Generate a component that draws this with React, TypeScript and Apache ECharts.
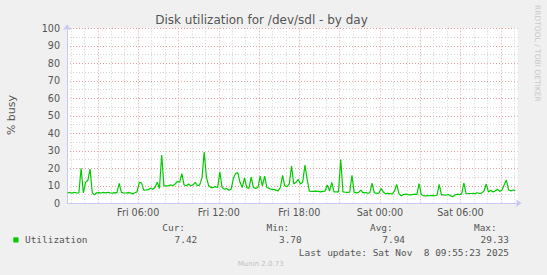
import React, { useEffect, useRef } from 'react';
import * as echarts from 'echarts';

// Time axis in hours since Fri 00:00
const START_HOUR = 0.75; // first sample, Fri 00:45
const STEP_HOURS = 1 / 6; // 10-minute samples
const X_MIN = 0.7;
const X_MAX = 34.26;

const utilization = [
  6.0, 6.2, 5.8, 6.3, 6.0, 5.9, 20, 6, 12, 13,
  19.5, 6, 4.8, 6.0, 6.1, 5.9, 6.2, 6.0, 6.3, 6.0,
  5.8, 6.1, 6.0, 11.4, 6.2, 6.0, 5.9, 6.1, 6.0, 5.4,
  6, 6.5, 12, 11.5, 7.5, 7.6, 7.8, 8.6, 8, 9,
  12, 8.5, 27.6, 10, 10, 10, 10.5, 10, 11, 12.5,
  12, 17, 10.5, 10, 11, 10, 10.5, 12, 10, 10.5,
  14.5, 29.3, 15, 10, 9, 9, 9.5, 9, 18, 9,
  8, 8.5, 7.5, 8, 14, 17, 17.5, 12, 9, 14.5,
  9, 8.5, 15, 9, 8.5, 9, 15.5, 10, 15.5, 9,
  8.5, 8, 8, 7.5, 7, 9, 16, 10, 9.5, 11,
  21.3, 11, 12, 13.7, 11, 12, 21.9, 13.5, 7, 6.8,
  6.8, 7, 6.8, 6.5, 6.8, 7, 10.5, 7, 12, 6.5,
  6.5, 6.5, 25, 6.5, 6.3, 6.2, 6.3, 16, 6.2, 6,
  6.2, 7.5, 6, 6.2, 5.8, 6, 11.5, 6, 5.8, 5.6,
  8.5, 6.5, 5.5, 5.7, 5.5, 5.3, 7, 10.8, 5.5, 4.2,
  5, 5.2, 5, 4.8, 5, 5.2, 5, 11.2, 5, 4.4,
  4.2, 4.4, 4.3, 4.5, 4.4, 4.6, 10.8, 4.8, 4.8, 4.6,
  5, 4.4, 3.7, 4.8, 5.2, 5, 5.2, 11.6, 5.6, 5.5,
  5.6, 5.7, 5.5, 6, 5.6, 5.8, 7, 11, 6.5, 7.5,
  6.5, 7, 8, 6.8, 7.5, 10.5, 13.3, 7.6, 7, 7.6,
  7.42,
];

const xLabelHours = [6, 12, 18, 24, 30];
const xTickLabels = ['Fri 06:00', 'Fri 12:00', 'Fri 18:00', 'Sat 00:00', 'Sat 06:00'];
const majorHourLines = [3, 6, 9, 12, 15, 18, 21, 24, 27, 30, 33];
const minorHourLines = [1, 2, 4, 5, 7, 8, 10, 11, 13, 14, 16, 17, 19, 20, 22, 23, 25, 26, 28, 29, 31, 32, 34];

const statLabels = ['Cur:', 'Min:', 'Avg:', 'Max:'];
const statValues = ['7.42', '3.70', '7.94', '29.33'];
const seriesName = 'Utilization';
const titleText = 'Disk utilization for /dev/sdl - by day';
const lastUpdate = 'Last update: Sat Nov  8 09:55:23 2025';

const SANS = 'DejaVu Sans';
const MONO = 'DejaVu Sans Mono';
const GREEN = '#00cc00';
const MINOR = '#d2d2d2';
const MAJOR = '#eaa0a0';
const AXIS = '#c8c8f4';

export default function App() {
  const ref = useRef<HTMLDivElement>(null);

  useEffect(() => {
    if (!ref.current) return;
    const chart = echarts.init(ref.current, null, { renderer: 'svg' });
    const data = utilization.map((v, i) => [START_HOUR + i * STEP_HOURS, v]);

    const statHeaderRight = [185, 289.3, 392.7, 496.7];
    const statValueRight = [197.3, 301.7, 405, 509];

    const graphics: any[] = [
      {
        type: 'text', x: 261.5, y: 20,
        style: { text: titleText, font: `12px "${SANS}"`, fill: '#555', textAlign: 'center', textVerticalAlign: 'middle', align: 'center', verticalAlign: 'middle' },
      },
      {
        type: 'text', x: 11, y: 115, rotation: Math.PI / 2,
        style: { text: '% busy', font: `11px "${SANS}"`, fill: '#555', textAlign: 'center', textVerticalAlign: 'middle', align: 'center', verticalAlign: 'middle' },
      },
      {
        type: 'text', x: 537, y: 5, rotation: -Math.PI / 2,
        style: { text: 'RRDTOOL / TOBI OETIKER', font: `7.5px "${SANS}"`, fill: '#c8c8c8', textAlign: 'left', textVerticalAlign: 'middle', align: 'left', verticalAlign: 'middle' },
      },
      {
        type: 'rect', shape: { x: 13.3, y: 237.3, width: 5.2, height: 5.2 },
        style: { fill: GREEN },
      },
      {
        type: 'text', x: 25, y: 239.7,
        style: { text: seriesName, font: `9.45px "${MONO}"`, fill: '#555', textAlign: 'left', textVerticalAlign: 'middle', align: 'left', verticalAlign: 'middle' },
      },
      {
        type: 'text', x: 509, y: 252,
        style: { text: lastUpdate, font: `9.45px "${MONO}"`, fill: '#555', textAlign: 'right', textVerticalAlign: 'middle', align: 'right', verticalAlign: 'middle' },
      },
      {
        type: 'text', x: 260.7, y: 264,
        style: { text: 'Munin 2.0.73', font: `7px "${SANS}"`, fill: '#c0c0c0', textAlign: 'center', textVerticalAlign: 'middle', align: 'center', verticalAlign: 'middle' },
      },
    ];
    statLabels.forEach((s, k) => {
      graphics.push({
        type: 'text', x: statHeaderRight[k], y: 227.3,
        style: { text: s, font: `9.45px "${MONO}"`, fill: '#555', textAlign: 'right', textVerticalAlign: 'middle', align: 'right', verticalAlign: 'middle' },
      });
      graphics.push({
        type: 'text', x: statValueRight[k], y: 239.7,
        style: { text: statValues[k], font: `9.45px "${MONO}"`, fill: '#555', textAlign: 'right', textVerticalAlign: 'middle', align: 'right', verticalAlign: 'middle' },
      });
    });

    const option: any = {
      animation: false,
      backgroundColor: '#f0f0f0',
      grid: {
        left: 67, top: 28.3, right: 29.3, bottom: 71.7,
        show: true, backgroundColor: '#ffffff', borderWidth: 0,
        containLabel: false,
      },
      xAxis: [
        {
          type: 'value', min: X_MIN, max: X_MAX, position: 'bottom',
          axisLine: {
            show: true, onZero: false,
            lineStyle: { color: AXIS, width: 1 },
            symbol: ['none', 'arrow'], symbolSize: [6, 6], symbolOffset: [0, 4],
          },
          axisTick: { show: false, customValues: minorHourLines },
          axisLabel: {
            show: true, customValues: xLabelHours, margin: 4,
            color: '#555', fontFamily: SANS, fontSize: 9.6,
            formatter: (v: number) => {
              const k = xLabelHours.findIndex((h) => Math.abs(h - v) < 1e-6);
              return k >= 0 ? xTickLabels[k] : '';
            },
          },
          splitLine: { show: true, lineStyle: { color: MINOR, type: [1, 2], width: 1 } },
        },
        {
          type: 'value', min: X_MIN, max: X_MAX, position: 'bottom',
          axisLine: { show: false },
          axisTick: { show: false, customValues: majorHourLines },
          axisLabel: { show: false },
          splitLine: { show: true, lineStyle: { color: MAJOR, type: [1, 2], width: 1 } },
        },
      ],
      yAxis: {
        type: 'value', min: 0, max: 100, interval: 10,
        axisLine: {
          show: true, onZero: false,
          lineStyle: { color: AXIS, width: 1 },
          symbol: ['none', 'arrow'], symbolSize: [6, 6], symbolOffset: [0, 4],
        },
        axisTick: { show: false },
        axisLabel: { color: '#555', fontFamily: SANS, fontSize: 9.6, margin: 7 },
        splitLine: { show: true, lineStyle: { color: MAJOR, type: [1, 2], width: 1 } },
        minorTick: { show: false, splitNumber: 2 },
        minorSplitLine: { show: true, lineStyle: { color: MINOR, type: [1, 2], width: 1 } },
      },
      series: [
        {
          name: seriesName,
          type: 'line',
          xAxisIndex: 0,
          data,
          showSymbol: false,
          symbol: 'none',
          lineStyle: { color: GREEN, width: 1.2 },
          z: 5,
        },
      ],
      graphic: graphics,
    };
    chart.setOption(option);
    return () => chart.dispose();
  }, []);

  return (
    <div
      ref={ref}
      style={{ position: 'absolute', left: 0, top: 0, width: 547, height: 275 }}
    />
  );
}
